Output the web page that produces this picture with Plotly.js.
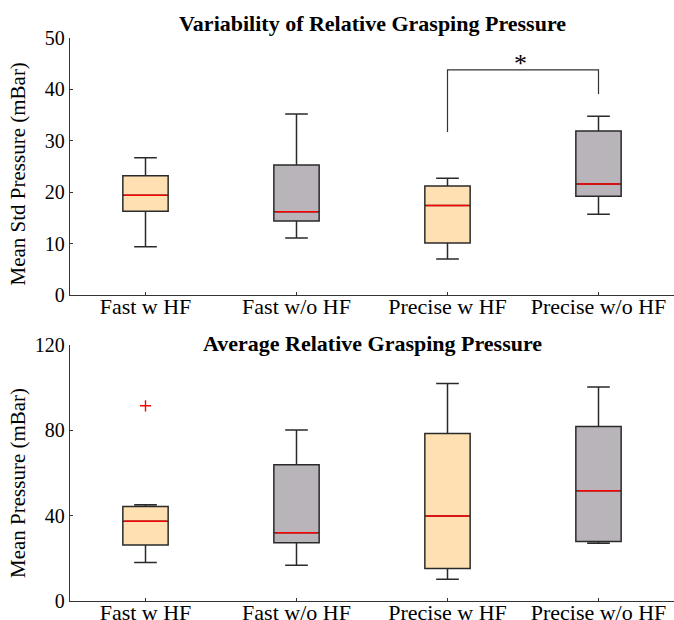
<!DOCTYPE html>
<html>
<head>
<meta charset="utf-8">
<script src="https://cdn.plot.ly/plotly-3.0.1.min.js"></script>
<style>html,body{margin:0;padding:0;background:#fff;}</style>
</head>
<body>
<div id="chart" style="width:674px;height:620px;"></div>
<script>
// ---- data ----
const categories = ["Fast w HF", "Fast w/o HF", "Precise w HF", "Precise w/o HF"];
const groupColors = ["#FFE0B3", "#B9B4B9", "#FFE0B3", "#B9B4B9"];

// Variability of Relative Grasping Pressure (Mean Std Pressure, mBar)
const varLow    = [9.4, 11.1, 7.0, 15.7];
const varQ1     = [16.3, 14.4, 10.1, 19.2];
const varMedian = [19.4, 16.2, 17.4, 21.6];
const varQ3     = [23.2, 25.3, 21.2, 31.9];
const varHigh   = [26.7, 35.2, 22.7, 34.8];

// Average Relative Grasping Pressure (Mean Pressure, mBar)
const avgLow    = [18.0, 16.8, 10.2, 27.1];
const avgQ1     = [26.2, 27.3, 15.2, 27.9];
const avgMedian = [37.4, 32.0, 39.8, 51.7];
const avgQ3     = [44.3, 63.9, 78.5, 81.8];
const avgHigh   = [45.1, 80.2, 102.0, 100.3];
const avgOutlierGroup = ["Fast w HF"];
const avgOutlierValue = [91.5];

// significance bracket (top panel): groups compared and levels
const sigGroups = ["Precise w HF", "Precise w/o HF"];
const sigTop = 43.8;
const sigLegs = [31.7, 39.1];
const sigStarY = 45.0;

// ---- drawing ----
const BOX_W = 0.30;
const pos = c => categories.indexOf(c) + 1;
const traces = [];

function addPanel(low, q1, med, q3, high, xa, ya) {
  categories.forEach((c, i) => {
    traces.push({
      type: "box", xaxis: xa, yaxis: ya,
      x: [pos(c)],
      lowerfence: [low[i]], q1: [q1[i]], median: [med[i]], q3: [q3[i]], upperfence: [high[i]],
      width: BOX_W, whiskerwidth: 0.5,
      fillcolor: groupColors[i],
      line: {color: "#2a2a2a", width: 1.5},
      boxpoints: false, showlegend: false, hoverinfo: "skip"
    });
    traces.push({
      type: "scatter", mode: "lines", xaxis: xa, yaxis: ya,
      x: [pos(c) - BOX_W / 2 + 0.01, pos(c) + BOX_W / 2 - 0.01],
      y: [med[i], med[i]],
      line: {color: "#ff0000", width: 1.5},
      showlegend: false, hoverinfo: "skip"
    });
  });
}

addPanel(varLow, varQ1, varMedian, varQ3, varHigh, "x", "y");
addPanel(avgLow, avgQ1, avgMedian, avgQ3, avgHigh, "x2", "y2");

traces.push({
  type: "scatter", mode: "markers", xaxis: "x2", yaxis: "y2",
  x: avgOutlierGroup.map(pos), y: avgOutlierValue,
  marker: {symbol: "cross-thin-open", size: 8, color: "#ff0000", line: {color: "#ff0000", width: 1.4}},
  showlegend: false, hoverinfo: "skip"
});

// significance bracket
traces.push({
  type: "scatter", mode: "lines", xaxis: "x", yaxis: "y",
  x: [pos(sigGroups[0]), pos(sigGroups[0]), pos(sigGroups[1]), pos(sigGroups[1])],
  y: [sigLegs[0], sigTop, sigTop, sigLegs[1]],
  line: {color: "#333333", width: 1.2},
  showlegend: false, hoverinfo: "skip"
});

const FONT = "Liberation Serif, Times New Roman, serif";
const xCommon = {
  range: [0.5, 4.5], tickvals: [1, 2, 3, 4], ticktext: categories,
  ticks: "inside", ticklen: 3, tickcolor: "#333",
  ticklabelstandoff: -9,
  showline: true, linecolor: "#333", linewidth: 1.2,
  showgrid: false, zeroline: false,
  tickfont: {family: FONT, size: 22, color: "#000"}
};
const yCommon = {
  ticks: "inside", ticklen: 3, tickcolor: "#333",
  showline: true, linecolor: "#333", linewidth: 1.2,
  showgrid: false, zeroline: false,
  tickfont: {family: FONT, size: 20, color: "#000"}
};

const layout = {
  width: 674, height: 620,
  margin: {l: 70, r: 0, t: 38, b: 19},
  paper_bgcolor: "#fff", plot_bgcolor: "#fff",
  showlegend: false,
  xaxis: Object.assign({}, xCommon, {domain: [0, 1], anchor: "y"}),
  yaxis: Object.assign({}, yCommon, {domain: [0.5435, 1], range: [0, 50], dtick: 10, anchor: "x"}),
  xaxis2: Object.assign({}, xCommon, {domain: [0, 1], anchor: "y2"}),
  yaxis2: Object.assign({}, yCommon, {domain: [0, 0.4547], range: [0, 120], dtick: 40, anchor: "x2"}),
  annotations: [
    {text: "<b>Variability of Relative Grasping Pressure</b>", xref: "paper", yref: "paper",
     x: 0.5, y: 1, yanchor: "middle", yshift: 15, showarrow: false,
     font: {family: FONT, size: 22, color: "#000"}},
    {text: "<b>Average Relative Grasping Pressure</b>", xref: "paper", yref: "paper",
     x: 0.5, y: 0.4547, yanchor: "middle", yshift: 2, showarrow: false,
     font: {family: FONT, size: 22, color: "#000"}},
    {text: "Mean Std Pressure (mBar)", xref: "paper", yref: "y domain",
     x: 0, y: 0.5, xanchor: "center", yanchor: "middle", xshift: -52, yshift: -8, textangle: -90, showarrow: false,
     font: {family: FONT, size: 21, color: "#000"}},
    {text: "Mean Pressure (mBar)", xref: "paper", yref: "y2 domain",
     x: 0, y: 0.5, xanchor: "center", yanchor: "middle", xshift: -52, yshift: -10, textangle: -90, showarrow: false,
     font: {family: FONT, size: 21, color: "#000"}},
    {text: "*", xref: "x", yref: "y",
     x: (pos(sigGroups[0]) + pos(sigGroups[1])) / 2, y: sigStarY, showarrow: false, xshift: -3,
     font: {family: FONT, size: 26, color: "#000"}}
  ]
};

Plotly.newPlot("chart", traces, layout, {displayModeBar: false, staticPlot: true});
</script>
</body>
</html>
